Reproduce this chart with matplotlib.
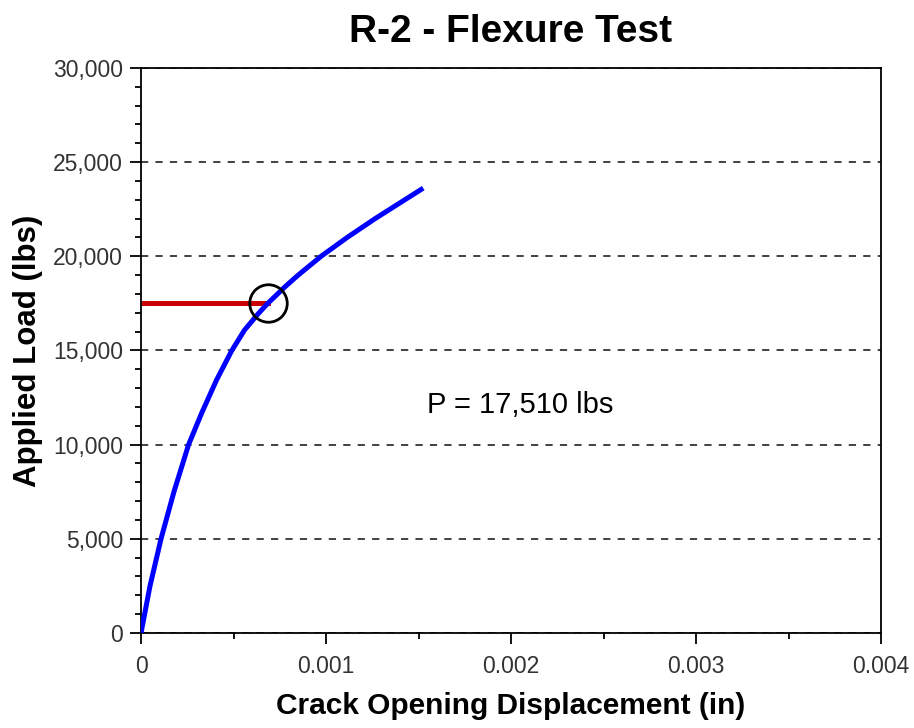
import matplotlib
matplotlib.use("Agg")
import matplotlib.pyplot as plt
from matplotlib.ticker import MultipleLocator, FuncFormatter

plt.rcParams['font.family'] = ['Liberation Sans', 'DejaVu Sans']

# Load-displacement curve
cod_in = [0, 0.0000486, 0.000108, 0.000178, 0.000257, 0.000327, 0.000408,
          0.000489, 0.000559, 0.000635, 0.000686, 0.000778, 0.000849,
          0.000973, 0.001114, 0.001265, 0.001514]
load_lbs = [0, 2500, 5000, 7500, 10000, 11660, 13430,
            14970, 16080, 16970, 17510, 18380, 19000,
            20000, 21000, 22000, 23550]

# Proportional limit point
p_cod = 0.000686
p_load = 17510
p_label = "P = 17,510 lbs"

fig = plt.figure(figsize=(9.14, 7.28), dpi=100)
ax = fig.add_axes([0.1543, 0.1305, 0.8096, 0.7761])

ax.plot(cod_in, load_lbs, color="#0000FF", lw=3.6, zorder=3,
        solid_joinstyle="round")
ax.plot([0, p_cod], [p_load, p_load], color="#CC0000", lw=3.6, zorder=2)
ax.plot([p_cod], [p_load], marker="o", ms=27, mfc="none", mec="black",
        mew=2, zorder=4)

ax.text(0.00205, 12100, p_label, fontsize=21, ha="center", va="center",
        color="black")

ax.set_xlim(0, 0.004)
ax.set_ylim(0, 30000)
ax.xaxis.set_major_locator(MultipleLocator(0.001))
ax.xaxis.set_minor_locator(MultipleLocator(0.0005))
ax.yaxis.set_major_locator(MultipleLocator(5000))
ax.yaxis.set_minor_locator(MultipleLocator(1000))
ax.xaxis.set_major_formatter(FuncFormatter(lambda v, p: "0" if v == 0 else f"{v:.3f}"))
ax.yaxis.set_major_formatter(FuncFormatter(lambda v, p: f"{int(v):,}"))

ax.tick_params(which="major", length=8, width=1.3, labelsize=16.5,
               labelcolor="#333333")
ax.tick_params(axis="y", which="major", pad=5)
ax.tick_params(axis="x", which="major", pad=8)
ax.tick_params(which="minor", length=4, width=1.3)
for s in ax.spines.values():
    s.set_linewidth(1.3)

ax.grid(axis="y", which="major", linestyle=(0, (4, 4)), color="#333333", lw=1.3)
ax.set_axisbelow(True)

ax.set_title("R-2 - Flexure Test", fontsize=28, fontweight="bold", pad=19)
ax.set_xlabel("Crack Opening Displacement (in)", fontsize=21.5, fontweight="bold",
              labelpad=10)
ax.set_ylabel("Applied Load (lbs)", fontsize=22.5, fontweight="bold", labelpad=7)

fig.savefig("out.png", dpi=100)
